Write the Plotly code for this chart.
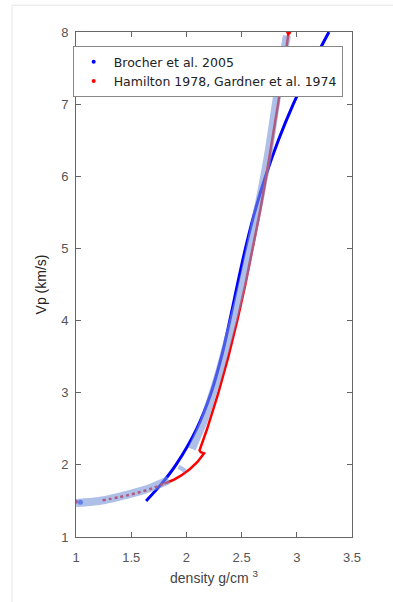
import plotly.graph_objects as go

# Brocher et al. 2005 (density vs Vp)
brocher_rho = [1.635, 1.782, 1.905, 2.093, 2.224, 2.318, 2.393, 2.462, 2.535, 2.618, 2.717, 2.833, 2.968, 3.121, 3.291]
brocher_vp = [1.5, 1.75, 2.0, 2.5, 3.0, 3.5, 4.0, 4.5, 5.0, 5.5, 6.0, 6.5, 7.0, 7.5, 8.0]

# Hamilton 1978 (sediments) - first point and dotted portion
ham_first_rho = [1.0]
ham_first_vp = [1.49]
ham_dot_rho = [1.24, 1.40, 1.55, 1.70, 1.80]
ham_dot_vp = [1.51, 1.555, 1.61, 1.68, 1.74]
# Hamilton solid portion + hook + Gardner et al. 1974
red_rho = [1.80, 1.88, 1.95, 2.03, 2.10, 2.15, 2.16, 2.13,
           2.119, 2.188, 2.290, 2.380, 2.461, 2.534, 2.602, 2.665, 2.723, 2.778, 2.830, 2.880, 2.926]
red_vp = [1.74, 1.79, 1.85, 1.94, 2.04, 2.13, 2.16, 2.175,
          2.2, 2.5, 3.0, 3.5, 4.0, 4.5, 5.0, 5.5, 6.0, 6.5, 7.0, 7.5, 8.0]

# Thick light-blue composite curve
band1_rho = [1.0, 1.25, 1.46, 1.67, 1.84]
band1_vp = [1.47, 1.51, 1.585, 1.68, 1.79]
band_blob_rho = [1.95, 1.97]
band_blob_vp = [1.92, 1.97]
band2_rho = [2.05, 2.10, 2.16, 2.23, 2.30, 2.37, 2.44, 2.52, 2.60, 2.68, 2.74, 2.80, 2.86, 2.91]
band2_vp = [2.22, 2.40, 2.62, 2.95, 3.30, 3.70, 4.10, 4.60, 5.20, 5.80, 6.30, 6.90, 7.50, 7.95]
band_dot_rho = [1.04]
band_dot_vp = [1.48]

x_ticks = [1, 1.5, 2, 2.5, 3, 3.5]
x_tick_labels = ["1", "1.5", "2", "2.5", "3", "3.5"]
y_ticks = [1, 2, 3, 4, 5, 6, 7, 8]

BLUE = "#0000ff"
RED = "#ff0000"
BAND = "rgba(120,150,215,0.6)"

fig = go.Figure()

fig.add_trace(go.Scatter(x=brocher_rho, y=brocher_vp, mode="lines",
                         line=dict(color=BLUE, width=3, shape="spline"),
                         showlegend=False, hoverinfo="skip"))
fig.add_trace(go.Scatter(x=ham_first_rho, y=ham_first_vp, mode="markers",
                         marker=dict(color=RED, size=4), showlegend=False, hoverinfo="skip"))
fig.add_trace(go.Scatter(x=ham_dot_rho, y=ham_dot_vp, mode="lines",
                         line=dict(color=RED, width=2.5, dash="dot", shape="spline"),
                         showlegend=False, hoverinfo="skip"))
fig.add_trace(go.Scatter(x=red_rho, y=red_vp, mode="lines",
                         line=dict(color=RED, width=2.5),
                         showlegend=False, hoverinfo="skip"))
fig.add_trace(go.Scatter(x=[red_rho[-1]], y=[red_vp[-1]], mode="markers",
                         marker=dict(color=RED, size=5), showlegend=False, hoverinfo="skip"))

for bx, by in [(band1_rho, band1_vp), (band_blob_rho, band_blob_vp), (band2_rho, band2_vp)]:
    fig.add_trace(go.Scatter(x=bx, y=by, mode="lines",
                             line=dict(color=BAND, width=8, shape="spline"),
                             showlegend=False, hoverinfo="skip"))
fig.add_trace(go.Scatter(x=band_dot_rho, y=band_dot_vp, mode="markers",
                         marker=dict(color="rgba(80,110,235,0.8)", size=5),
                         showlegend=False, hoverinfo="skip"))

# legend entries (dot markers)
fig.add_trace(go.Scatter(x=[None], y=[None], mode="markers", name="Brocher et al. 2005",
                         marker=dict(color=BLUE, size=4)))
fig.add_trace(go.Scatter(x=[None], y=[None], mode="markers", name="Hamilton 1978, Gardner et al. 1974",
                         marker=dict(color=RED, size=4)))

axis_common = dict(showline=True, linecolor="#666666", linewidth=1, mirror="ticks",
                   ticks="inside", ticklen=5, tickcolor="#666666", showgrid=False,
                   zeroline=False, tickfont=dict(family="Liberation Sans, Arial", size=13, color="#555555"))

fig.update_layout(
    width=393, height=602,
    margin=dict(l=76, r=41, t=32, b=65),
    paper_bgcolor="white", plot_bgcolor="white",
    xaxis=dict(range=[1, 3.5], tickvals=x_ticks, ticktext=x_tick_labels, ticklabelstandoff=8,
               title=dict(text="density g/cm <sup>3</sup>", standoff=9,
                          font=dict(family="Liberation Sans, Arial", size=14, color="#444444")),
               **axis_common),
    yaxis=dict(range=[1, 8], tickvals=y_ticks, ticklabelstandoff=4,
               title=dict(text="Vp (km/s)", standoff=11,
                          font=dict(family="Liberation Sans, Arial", size=14, color="#222222")),
               **axis_common),
    legend=dict(x=-0.012, y=0.972, xanchor="left", yanchor="top",
                bgcolor="white", bordercolor="#888888", borderwidth=1,
                font=dict(family="DejaVu Sans", size=12.5, color="#222222"),
                tracegroupgap=0, itemwidth=30),
    shapes=[dict(type="rect", xref="paper", yref="paper",
                 x0=-0.232, x1=1.3, y0=-0.3, y1=1.053,
                 line=dict(color="#e6e6e6", width=1), fillcolor="rgba(0,0,0,0)", layer="below")],
)

fig.write_html("out.html", config={"displayModeBar": False},
               post_script="document.body.style.margin='0';")
